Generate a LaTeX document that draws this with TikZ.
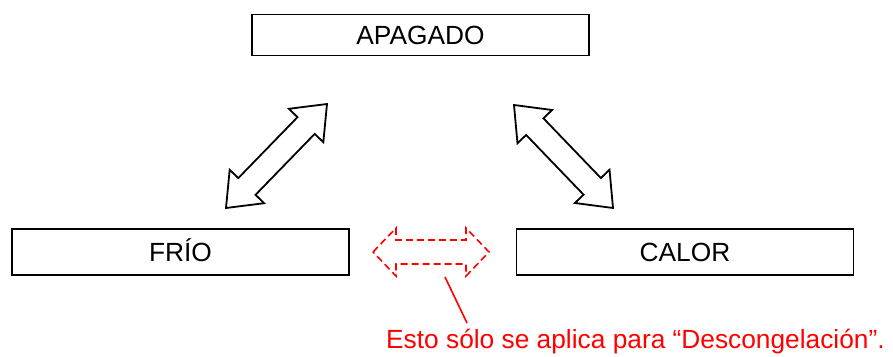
\documentclass[tikz,border=0pt]{standalone}
\usepackage{fontspec}
\setmainfont{Liberation Sans}
\usepackage{xcolor}
\usetikzlibrary{calc}
% hollow double arrow between two tips: [style]{tip a}{tip b}{head length}
\newcommand{\dblarrow}[4][]{%
\path ($(#2)!#4!(#3)$) coordinate (ha) ($(#3)!#4!(#2)$) coordinate (hb);
\draw[#1](#2)--($(ha)!24pt!90:(#3)$)--($(ha)!12pt!90:(#3)$)--($(hb)!12pt!-90:(#2)$)--($(hb)!24pt!-90:(#2)$)--(#3)
--($(hb)!24pt!90:(#2)$)--($(hb)!12pt!90:(#2)$)--($(ha)!12pt!-90:(#3)$)--($(ha)!24pt!-90:(#3)$)--cycle;}

\begin{document}
\begin{tikzpicture}[x=1pt,y=-1pt,font=\fontsize{26.3}{30}\selectfont,
  box/.style={draw,line width=1.4pt,minimum width=337pt,inner sep=0pt,text height=19pt,text depth=0pt},
  blk/.style={line width=1.8pt,line join=miter},
  red/.style={draw=red,line width=1.6pt}]
\useasboundingbox(0,0)rectangle(893,356);
\node[box,minimum height=41pt](apagado)at(420.5,35){APAGADO};
\node[box,minimum height=46pt](frio)at(180.5,252){FRÍO};
\node[box,minimum height=46pt](calor)at(685,252){CALOR};

\coordinate(fa)at(327,104);\coordinate(fb)at(226,208);
\coordinate(ca)at(514,105);\coordinate(cb)at(613,208);
\dblarrow[blk]{fa}{fb}{30pt}
\dblarrow[blk]{ca}{cb}{30pt}

\coordinate(da)at(373,252);\coordinate(db)at(489,252);
\dblarrow[red,dash pattern=on 7pt off 4pt]{da}{db}{23pt}

\node[anchor=base west,text=red,inner sep=0pt](note)at(386,348){Esto sólo se aplica para “Descongelación”.};
\coordinate(lp)at(445,277);\coordinate(lq)at(467,323);
\draw[red](lp)--(lq);
\end{tikzpicture}
\end{document}
